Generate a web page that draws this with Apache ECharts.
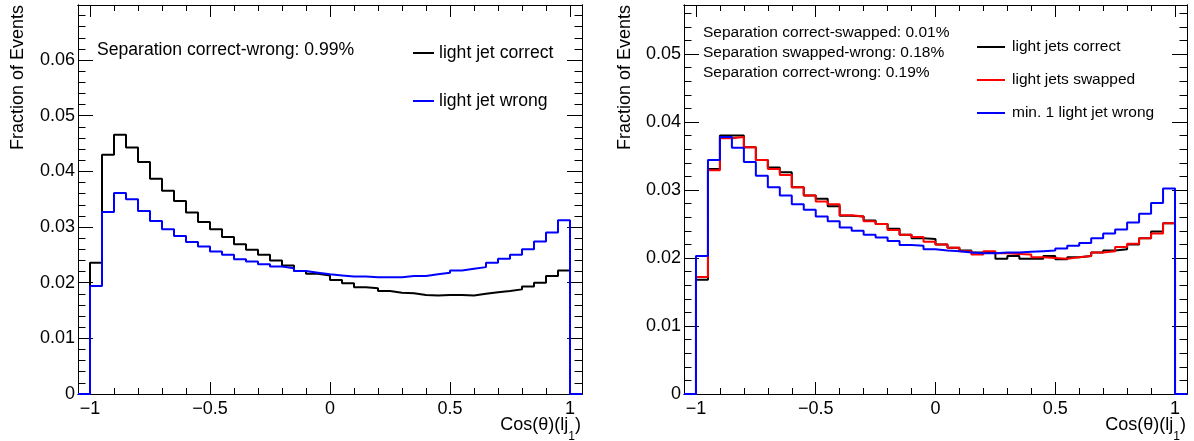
<!DOCTYPE html>
<html>
<head>
<meta charset="utf-8">
<script src="https://cdn.jsdelivr.net/npm/echarts@6/dist/echarts.min.js"></script>
<style>
html, body { margin: 0; padding: 0; background: #fff; }
#chart { width: 1194px; height: 441px; }
</style>
</head>
<body>
<div id="chart"></div>
<script>
// bins: 40 bins of width 0.05 between -1 and 1
var binLo = -1, binWidth = 0.05;

// left pad
var leftCorrect = [0.0236,0.0430,0.0466,0.0443,0.0417,0.0387,0.0365,0.0347,0.0326,0.0309,
                   0.0296,0.0282,0.0269,0.0259,0.0250,0.0240,0.0231,0.0221,0.0216,0.0213,
                   0.0205,0.0199,0.0192,0.0190,0.0185,0.0182,0.0181,0.0178,0.0177,0.0178,
                   0.0178,0.0177,0.0180,0.0183,0.0185,0.0188,0.0193,0.0200,0.0212,0.0222];
var leftWrong   = [0.0194,0.0327,0.0361,0.0350,0.0329,0.0311,0.0296,0.0284,0.0273,0.0265,
                   0.0256,0.0250,0.0242,0.0238,0.0233,0.0229,0.0226,0.0221,0.0218,0.0215,
                   0.0213,0.0211,0.0211,0.0210,0.0210,0.0210,0.0212,0.0212,0.0215,0.0218,
                   0.0222,0.0225,0.0228,0.0236,0.0243,0.0250,0.0260,0.0274,0.0290,0.0312];

// right pad
var rightCorrect = [0.0168,0.0331,0.0380,0.0380,0.0363,0.0344,0.0333,0.0326,0.0304,0.0292,
                    0.0287,0.0276,0.0262,0.0261,0.0255,0.0250,0.0243,0.0234,0.0229,0.0228,
                    0.0220,0.0215,0.0211,0.0208,0.0208,0.0199,0.0203,0.0199,0.0199,0.0203,
                    0.0198,0.0201,0.0203,0.0208,0.0211,0.0213,0.0220,0.0229,0.0239,0.0251];
var rightSwapped = [0.0172,0.0329,0.0376,0.0378,0.0363,0.0344,0.0331,0.0322,0.0304,0.0292,
                    0.0283,0.0279,0.0263,0.0261,0.0254,0.0250,0.0241,0.0234,0.0231,0.0224,
                    0.0220,0.0215,0.0210,0.0205,0.0210,0.0207,0.0206,0.0205,0.0201,0.0200,
                    0.0199,0.0201,0.0203,0.0208,0.0210,0.0216,0.0221,0.0229,0.0236,0.0251];
var rightWrong   = [0.0203,0.0344,0.0378,0.0362,0.0341,0.0321,0.0304,0.0292,0.0279,0.0271,
                    0.0261,0.0254,0.0245,0.0240,0.0234,0.0230,0.0225,0.0219,0.0218,0.0213,
                    0.0211,0.0210,0.0208,0.0207,0.0207,0.0208,0.0208,0.0209,0.0210,0.0211,
                    0.0214,0.0218,0.0222,0.0229,0.0236,0.0242,0.0252,0.0265,0.0281,0.0302];

// tick labels
var xMajor = [-1, -0.5, 0, 0.5, 1];
var yMajorLeft = [0, 0.01, 0.02, 0.03, 0.04, 0.05, 0.06];
var yMajorRight = [0, 0.01, 0.02, 0.03, 0.04, 0.05];

var xMin = -1.05, xMax = 1.05;
var yMaxLeft = 0.0699, yMaxRight = 0.0572;
var FONT = '"Liberation Sans", Arial, Helvetica, sans-serif';

function steps(lo, hi, d) {
    var arr = [];
    for (var i = 0; lo + i * d <= hi + 1e-9; i++) {
        arr.push(+(lo + i * d).toFixed(4));
    }
    return arr;
}
var xMinor = steps(-1, 1, 0.1);
var yMinorLeft = steps(0, yMaxLeft, 0.002);
var yMinorRight = steps(0, yMaxRight, 0.002);

// histogram outline points (step 'end')
function histo(vals) {
    var pts = [[xMin, 0], [binLo, 0]];
    for (var i = 0; i < vals.length; i++) {
        pts.push([+(binLo + i * binWidth).toFixed(3), vals[i]]);
    }
    var hiEdge = +(binLo + vals.length * binWidth).toFixed(3);
    pts.push([hiEdge, vals[vals.length - 1]]);
    pts.push([hiEdge, 0]);
    pts.push([xMax, 0]);
    return pts;
}

function xAxisOf(g, pos, vals, len, labels) {
    return {
        type: 'value', gridIndex: g, position: pos, min: xMin, max: xMax,
        axisLine: { show: true, onZero: false, lineStyle: { color: '#000', width: 1 } },
        axisTick: { show: true, inside: true, length: len, customValues: vals, lineStyle: { color: '#000', width: 1 } },
        axisLabel: {
            show: labels, customValues: vals, margin: 6, color: '#000', fontSize: 18, fontFamily: FONT,
            formatter: function (v) { return String(v).replace('-', '\u2212'); }
        },
        splitLine: { show: false }
    };
}

function yAxisOf(g, pos, ymax, vals, len, labels) {
    return {
        type: 'value', gridIndex: g, position: pos, min: 0, max: ymax,
        axisLine: { show: true, onZero: false, lineStyle: { color: '#000', width: 1 } },
        axisTick: { show: true, inside: true, length: len, customValues: vals, lineStyle: { color: '#000', width: 1 } },
        axisLabel: {
            show: labels, customValues: vals, margin: 3, color: '#000', fontSize: 18, fontFamily: FONT,
            formatter: function (v) { return v === 0 ? '0' : v.toFixed(2); }
        },
        splitLine: { show: false }
    };
}

var xAxes = [], yAxes = [];
[[0, yMaxLeft, yMajorLeft, yMinorLeft], [1, yMaxRight, yMajorRight, yMinorRight]].forEach(function (p) {
    var g = p[0];
    xAxes.push(xAxisOf(g, 'bottom', xMajor, 12, true));
    xAxes.push(xAxisOf(g, 'bottom', xMinor, 6, false));
    xAxes.push(xAxisOf(g, 'top', xMajor, 12, false));
    xAxes.push(xAxisOf(g, 'top', xMinor, 6, false));
    yAxes.push(yAxisOf(g, 'left', p[1], p[2], 15, true));
    yAxes.push(yAxisOf(g, 'left', p[1], p[3], 7.5, false));
    yAxes.push(yAxisOf(g, 'right', p[1], p[2], 15, false));
    yAxes.push(yAxisOf(g, 'right', p[1], p[3], 7.5, false));
});

function histSeries(name, vals, color, g) {
    return {
        name: name, type: 'line', step: 'end', showSymbol: false, symbol: 'none',
        xAxisIndex: g * 4, yAxisIndex: g * 4,
        lineStyle: { color: color, width: 2 },
        data: histo(vals), animation: false, silent: true
    };
}

function txt(x, y, s, size, align, color) {
    return { type: 'text', x: x, y: y, silent: true,
        style: { text: s, fontSize: size, fontFamily: FONT, fill: color || '#000', align: align || 'left', verticalAlign: 'middle' } };
}
function legLine(x1, x2, y, color) {
    return { type: 'line', silent: true, shape: { x1: x1, y1: y, x2: x2, y2: y }, style: { stroke: color, lineWidth: 2 } };
}
function yTitle(x) {
    return { type: 'text', x: x, y: 5, rotation: Math.PI / 2, silent: true,
        style: { text: 'Fraction of Events', fontSize: 18, fontFamily: FONT, fill: '#000', align: 'right', verticalAlign: 'middle' } };
}
function xTitle(x) {
    return { type: 'text', x: x, y: 425, silent: true,
        style: { text: '{a|Cos(\u03b8)(lj}{s|1}{a|)}', align: 'right', verticalAlign: 'middle', fill: '#000',
            rich: { a: { fontSize: 18, fontFamily: FONT, fill: '#000' },
                    s: { fontSize: 12, fontFamily: FONT, fill: '#000', padding: [24, 0, 0, 0] } } } };
}

var chart = echarts.init(document.getElementById('chart'));
chart.setOption({
    backgroundColor: '#fff',
    animation: false,
    grid: [
        { left: 78, top: 5, width: 504, height: 389, show: false },
        { left: 684, top: 5, width: 503, height: 389, show: false }
    ],
    xAxis: xAxes,
    yAxis: yAxes,
    series: [
        histSeries('light jet correct', leftCorrect, '#000000', 0),
        histSeries('light jet wrong', leftWrong, '#0000ff', 0),
        histSeries('light jets correct', rightCorrect, '#000000', 1),
        histSeries('light jets swapped', rightSwapped, '#ff0000', 1),
        histSeries('min. 1 light jet wrong', rightWrong, '#0000ff', 1)
    ],
    graphic: [
        yTitle(18), yTitle(625), xTitle(581), xTitle(1186),
        txt(97, 50, 'Separation correct-wrong: 0.99%', 17.6),
        legLine(413, 434, 53, '#000'), txt(439, 53, 'light jet correct', 17.6),
        legLine(413, 434, 101, '#0000ff'), txt(439, 101, 'light jet wrong', 17.6),
        txt(703, 33, 'Separation correct-swapped: 0.01%', 15.5),
        txt(703, 53, 'Separation swapped-wrong: 0.18%', 15.5),
        txt(703, 73, 'Separation correct-wrong: 0.19%', 15.5),
        legLine(977, 1005, 47, '#000'), txt(1012, 47, 'light jets correct', 15.5),
        legLine(977, 1005, 80, '#ff0000'), txt(1012, 80, 'light jets swapped', 15.5),
        legLine(977, 1005, 113, '#0000ff'), txt(1012, 113, 'min. 1 light jet wrong', 15.5)
    ]
});
</script>
</body>
</html>
